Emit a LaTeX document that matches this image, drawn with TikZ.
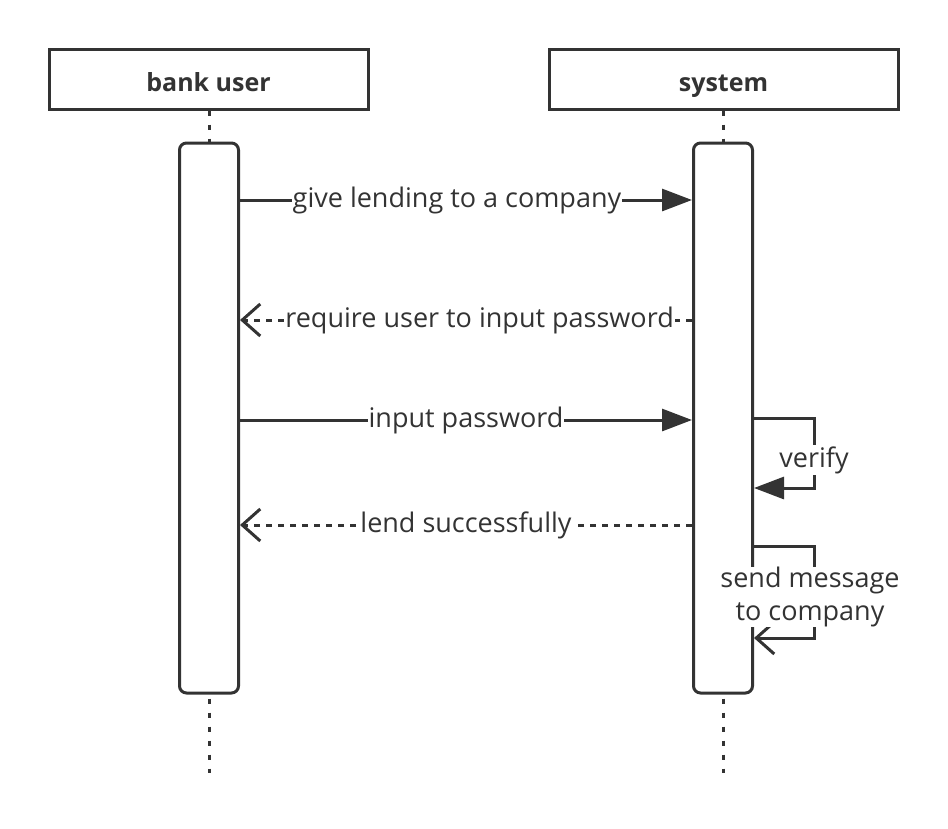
\documentclass[tikz,border=0pt]{standalone}
\usepackage{fontspec}
\setmainfont{Open Sans}
\usetikzlibrary{arrows.meta}
\definecolor{ink}{HTML}{333333}

\begin{document}
\begin{tikzpicture}[x=1pt,y=-1pt,line width=3pt,draw=ink,text=ink]
\tikzset{head/.style={draw,fill=white,minimum height=60pt,font=\fontsize{25}{30}\selectfont\bfseries,inner sep=0pt,text height=24pt,text depth=0pt}}
\tikzset{act/.style={draw,fill=white,rounded corners=7pt,minimum width=59pt,minimum height=550pt,inner sep=0pt}}
\tikzset{life/.style={dash pattern=on 5pt off 9pt}}
\tikzset{call/.style={-{Triangle[length=30pt,width=22pt]}}}
\tikzset{reply/.style={dash pattern=on 6pt off 6pt,-{Straight Barb[length=18pt,width=32pt]}}}
\tikzset{lbl/.style={fill=white,inner sep=1pt,font=\fontsize{27}{33}\selectfont}}
\useasboundingbox (0,0) rectangle (948,828);
% lifelines
\node [head,minimum width=319pt] (user) at (208.5,79) {bank user};
\node [head,minimum width=349pt] (sys) at (723.5,79) {system};
\draw [life] (user.south -| 209,0) -- (209,773);
\draw [life] (sys.south -| 723,0) -- (723,773);
% activations
\node [act] (ua) at (209,418) {};
\node [act] (sa) at (723,418) {};
% messages
\draw [call] (ua.east |- 0,200) -- node [lbl,pos=0.48] {give lending to a company} (sa.west |- 0,200);
\draw [reply] (sa.west |- 0,320) -- node [lbl,pos=0.47] {require user to input password} (ua.east |- 0,320);
\draw [call] (ua.east |- 0,420) -- node [lbl] {input password} (sa.west |- 0,420);
\draw [reply] (sa.west |- 0,525) -- node [lbl] {lend successfully} (ua.east |- 0,525);
% self calls
\draw [call] (sa.east |- 0,418) -- ++(60,0) -- node [lbl,pos=0.6] {verify} ++(0,70) -- (sa.east |- 0,488);
\draw [-{Straight Barb[length=18pt,width=32pt]}] (sa.east |- 0,546) -- ++(60,0) -- node [lbl,pos=0.55,align=center,inner sep=0pt,xshift=-4pt] {send message\\to company} ++(0,92) -- (sa.east |- 0,638);
\end{tikzpicture}
\end{document}
